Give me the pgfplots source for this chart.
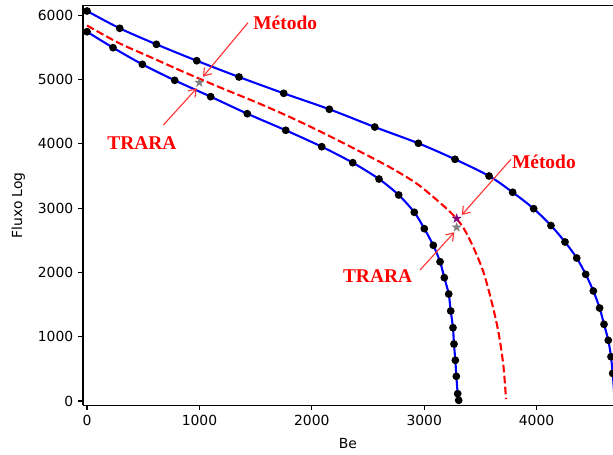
\documentclass[border=0pt]{standalone}
\usepackage{fontspec}
\setmainfont{DejaVu Sans}
\newfontfamily\annfont{Liberation Serif}
\usepackage{pgfplots}
\pgfplotsset{compat=1.18}
\usetikzlibrary{arrows.meta}
\pgfdeclareplotmark{fstar}{%
  \pgfpathmoveto{\pgfpointpolar{90}{\pgfplotmarksize}}%
  \pgfpathlineto{\pgfpointpolar{126}{0.382\pgfplotmarksize}}%
  \pgfpathlineto{\pgfpointpolar{162}{\pgfplotmarksize}}%
  \pgfpathlineto{\pgfpointpolar{198}{0.382\pgfplotmarksize}}%
  \pgfpathlineto{\pgfpointpolar{234}{\pgfplotmarksize}}%
  \pgfpathlineto{\pgfpointpolar{270}{0.382\pgfplotmarksize}}%
  \pgfpathlineto{\pgfpointpolar{306}{\pgfplotmarksize}}%
  \pgfpathlineto{\pgfpointpolar{342}{0.382\pgfplotmarksize}}%
  \pgfpathlineto{\pgfpointpolar{18}{\pgfplotmarksize}}%
  \pgfpathlineto{\pgfpointpolar{54}{0.382\pgfplotmarksize}}%
  \pgfpathclose\pgfusepathqfillstroke}
\definecolor{mplpurple}{rgb}{0.5,0,0.5}
\begin{document}
\begin{tikzpicture}
\useasboundingbox (0,0) rectangle (441.36pt,326.88pt);
\begin{axis}[
  at={(59.76pt,35.06pt)}, anchor=south west,
  scale only axis, width=381.6pt, height=288pt,
  xmin=-36, xmax=4680, ymin=-67, ymax=6154,
  axis x line*=bottom, axis y line*=left,
  axis line style={line width=0.8pt, -},
  tick align=outside, major tick length=3.5pt,
  tick style={black, line width=0.8pt},
  xtick={0,1000,2000,3000,4000}, ytick={0,1000,2000,3000,4000,5000,6000},
  /pgf/number format/assume math mode=true,
  /pgf/number format/set thousands separator={},
  ticklabel style={font=\fontsize{10}{12}\selectfont},
  label style={font=\fontsize{10}{12}\selectfont},
  xlabel={Be}, ylabel={Fluxo Log},
  xlabel style={at={(axis description cs:0.5,-0.0951)}, anchor=center},
  ylabel style={at={(axis description cs:-0.122,0.5)}, anchor=center},
  clip=true,
]
\draw[line width=0.8pt] (rel axis cs:0,1) -- (rel axis cs:1,1);
% upper curve
\addplot[blue, line width=1.5pt, smooth, mark=*, mark size=2pt, mark options={black, fill=black}] coordinates {
(0,6065)(291,5796)(617,5547)(976,5292)(1352,5039)(1750,4785)(2156,4537)(2560,4261)(2948,4008)(3274,3759)(3577,3499)(3787,3246)(3974,2991)(4128,2729)(4253,2473)(4357,2224)(4437,1970)(4505,1711)(4561,1446)(4600,1193)(4638,944)(4662,689)(4677,430)(4688,175)(4694,0)};
% lower curve
\addplot[blue, line width=1.5pt, smooth, mark=*, mark size=2pt, mark options={black, fill=black}] coordinates {
(0,5743)(231,5495)(492,5236)(780,4987)(1100,4733)(1426,4468)(1768,4210)(2088,3955)(2364,3706)(2598,3452)(2773,3204)(2912,2935)(3001,2680)(3081,2421)(3141,2166)(3179,1918)(3218,1664)(3236,1400)(3256,1140)(3265,886)(3277,633)(3286,384)(3298,114)(3307,11)};
% red dashed
\addplot[red, line width=1.5pt, smooth, dash pattern=on 5.55pt off 2.4pt] coordinates {
(0,5840)(280,5570)(575,5340)(870,5110)(1200,4865)(1500,4650)(1800,4420)(2100,4170)(2400,3905)(2700,3630)(2930,3385)(3110,3130)(3260,2890)(3350,2690)(3440,2380)(3526,2011)(3600,1544)(3660,1078)(3704,560)(3728,30)};
% stars
\addplot[only marks, mark=fstar, mark size=3.3pt, mark options={gray, fill=gray, line width=0.3pt}] coordinates {(999,4952)(3289,2701)};
\addplot[only marks, mark=fstar, mark size=3.3pt, mark options={mplpurple, fill=mplpurple, line width=0.3pt}] coordinates {(3289,2838)};
% annotations
\draw[red!80, line width=0.8pt, -{Straight Barb[length=5pt,width=7pt]}] (axis cs:1432,5883) -- (axis cs:1032,5044);
\draw[red!80, line width=0.8pt, -{Straight Barb[length=5pt,width=7pt]}] (axis cs:679,4292) -- (axis cs:976,4863);
\draw[red!80, line width=0.8pt, -{Straight Barb[length=5pt,width=7pt]}] (axis cs:3772,3759) -- (axis cs:3334,2893);
\draw[red!80, line width=0.8pt, -{Straight Barb[length=5pt,width=7pt]}] (axis cs:2963,2037) -- (axis cs:3268,2624);
\node[anchor=west, inner sep=0pt, text=red, font=\annfont\bfseries\fontsize{14}{16}\selectfont] at (axis cs:1477,5879) {Método};
\node[anchor=west, inner sep=0pt, text=red, font=\annfont\bfseries\fontsize{14}{16}\selectfont] at (axis cs:178,4012) {TRARA};
\node[anchor=west, inner sep=0pt, text=red, font=\annfont\bfseries\fontsize{14}{16}\selectfont] at (axis cs:3779,3722) {Método};
\node[anchor=west, inner sep=0pt, text=red, font=\annfont\bfseries\fontsize{14}{16}\selectfont] at (axis cs:2275,1944) {TRARA};
\end{axis}
\end{tikzpicture}
\end{document}
